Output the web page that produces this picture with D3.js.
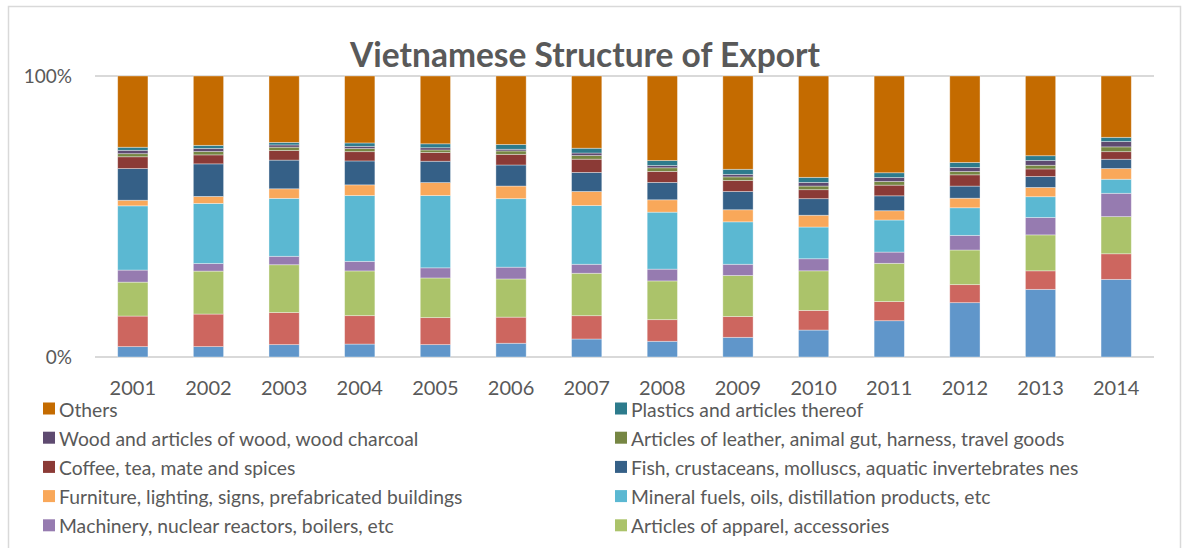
<!DOCTYPE html>
<html>
<head>
<meta charset="utf-8">
<script src="https://cdn.jsdelivr.net/npm/d3@7"></script>
<style>
  body { margin: 0; background: #fff; }
  text { font-family: Lato, "Open Sans", sans-serif; fill: #595959; }
</style>
</head>
<body>
<script>
  // chart data, shares of export per year (%)
  const years = ["2001", "2002", "2003", "2004", "2005", "2006", "2007",
                 "2008", "2009", "2010", "2011", "2012", "2013", "2014"];

  // bottom to top of the stack
  const seriesNames = [
    "Electrical, electronic equipment",
    "Footwear, gaiters and the like",
    "Articles of apparel, accessories",
    "Machinery, nuclear reactors, boilers, etc",
    "Mineral fuels, oils, distillation products, etc",
    "Furniture, lighting, signs, prefabricated buildings",
    "Fish, crustaceans, molluscs, aquatic invertebrates nes",
    "Coffee, tea, mate and spices",
    "Articles of leather, animal gut, harness, travel goods",
    "Wood and articles of wood, wood charcoal",
    "Plastics and articles thereof",
    "Others"
  ];

  const electrical = [3.7, 3.7, 4.4, 4.6, 4.4, 4.9, 6.4, 5.6, 7.0, 9.6, 12.9, 19.3, 24.1, 27.6];
  const footwear   = [10.9, 11.6, 11.4, 10.1, 9.6, 9.3, 8.3, 7.7, 7.4, 7.0, 6.8, 6.4, 6.6, 9.1];
  const apparel    = [12.1, 15.3, 17.0, 15.9, 14.1, 13.6, 15.1, 13.8, 14.6, 14.1, 13.6, 12.3, 12.8, 13.2];
  const machinery  = [4.3, 2.7, 3.0, 3.4, 3.6, 4.2, 3.2, 4.2, 4.0, 4.3, 4.0, 5.2, 6.2, 8.3];
  const mineral    = [22.9, 21.4, 20.6, 23.4, 25.7, 24.4, 20.9, 20.3, 15.1, 11.3, 11.4, 9.8, 7.4, 5.0];
  const furniture  = [2.0, 2.5, 3.4, 3.8, 4.6, 4.5, 5.0, 4.4, 4.3, 4.2, 3.3, 3.4, 3.3, 3.8];
  const fish       = [11.3, 11.6, 10.2, 8.5, 7.6, 7.5, 6.8, 6.2, 6.5, 5.9, 5.3, 4.3, 3.9, 3.3];
  const coffee     = [4.2, 3.2, 3.4, 3.3, 3.1, 3.8, 4.7, 3.9, 3.9, 3.2, 3.8, 4.0, 2.7, 2.7];
  const leather    = [1.1, 1.2, 1.2, 1.1, 0.9, 1.2, 1.3, 1.3, 1.3, 1.3, 1.3, 1.2, 1.3, 1.7];
  const wood       = [1.2, 1.1, 0.8, 0.8, 0.8, 0.6, 0.9, 0.8, 0.9, 1.3, 1.4, 1.4, 1.7, 1.9];
  const plastics   = [1.1, 1.1, 0.9, 1.2, 1.4, 1.7, 1.7, 1.8, 1.8, 1.8, 1.7, 1.8, 1.7, 1.5];
  const others     = [25.4, 24.7, 23.6, 23.8, 24.1, 24.4, 25.7, 30.1, 33.2, 36.1, 34.4, 30.7, 28.4, 21.8];

  const seriesValues = [electrical, footwear, apparel, machinery, mineral, furniture,
                        fish, coffee, leather, wood, plastics, others];

  const colors = ["#6096ca", "#cd665f", "#abc36a", "#967bb0", "#5bb8d2", "#f9a85a",
                  "#356087", "#8b3a36", "#768643", "#5e4a70", "#2d7b8c", "#c46b00"];

  const yTicks = [0, 1];

  const width = 1188, height = 548;
  const svg = d3.select("body").append("svg")
    .attr("width", width)
    .attr("height", height)
    .style("display", "block");

  // outer frame of the chart area
  svg.append("rect")
    .attr("x", 8.5).attr("y", 6.5)
    .attr("width", 1172).attr("height", 560)
    .attr("fill", "#fff")
    .attr("stroke", "#d9d9d9")
    .attr("stroke-width", 1.5);

  // build rows keyed by series index, normalised to 100%
  let table = years.map((y, i) => {
    let row = { year: y };
    let total = d3.sum(seriesValues, s => s[i]);
    seriesValues.forEach((s, k) => { row[k] = s[i] / total; });
    return row;
  });
  let keys = seriesValues.map((s, k) => k);
  let stacked = d3.stack().keys(keys)(table);

  let xScale = d3.scaleBand()
    .domain(years)
    .range([95, 1154])
    .paddingInner(0.6)
    .paddingOuter(0.3);

  let yScale = d3.scaleLinear()
    .domain([0, 1])
    .range([357, 76]);

  // gridlines at 0% and 100%
  svg.append("g")
    .selectAll("line")
    .data(yTicks)
    .enter()
    .append("line")
      .attr("x1", 95)
      .attr("x2", 1154)
      .attr("y1", d => yScale(d))
      .attr("y2", d => yScale(d))
      .attr("stroke", "#d9d9d9")
      .attr("stroke-width", 2);

  let yAxis = d3.axisLeft(yScale)
    .tickValues(yTicks)
    .tickFormat(d3.format(".0%"))
    .tickSize(0)
    .tickPadding(23);
  let gy = svg.append("g")
    .attr("transform", "translate(95, 0)")
    .call(yAxis);
  gy.select(".domain").remove();
  gy.selectAll("text")
    .style("font-size", "19px")
    .style("font-family", "Lato, sans-serif")
    .attr("fill", "#595959");

  // bars
  svg.append("g")
    .selectAll("g")
    .data(stacked)
    .enter()
    .append("g")
      .attr("fill", d => colors[d.key])
    .selectAll("rect")
    .data(d => d)
    .enter()
    .append("rect")
      .attr("x", d => xScale(d.data.year))
      .attr("width", xScale.bandwidth())
      .attr("y", d => yScale(d[1]))
      .attr("height", d => yScale(d[0]) - yScale(d[1]))
      .attr("stroke", "#ffffff")
      .attr("stroke-opacity", 0.45)
      .attr("stroke-width", 0.8);

  let xAxis = d3.axisBottom(xScale)
    .tickSize(0)
    .tickPadding(24);
  let gx = svg.append("g")
    .attr("transform", "translate(0, 357)")
    .call(xAxis);
  gx.select(".domain").remove();
  gx.selectAll("text")
    .style("font-size", "20px")
    .style("font-family", "Lato, sans-serif")
    .attr("fill", "#595959");

  // title
  svg.append("text")
    .attr("x", 585)
    .attr("y", 67)
    .attr("text-anchor", "middle")
    .style("font-size", "33.5px")
    .style("font-weight", "bold")
    .text("Vietnamese Structure of Export");

  // legend, two columns, reversed order; the last row is cut off by the frame
  // in the original, so only the rows that fit are drawn
  let legendItems = keys.slice().reverse().slice(0, 10);
  let legend = svg.append("g")
    .selectAll("g")
    .data(legendItems)
    .enter()
    .append("g")
      .attr("transform", (d, i) => {
        let col = i % 2;
        let row = Math.floor(i / 2);
        let x = col == 0 ? 43 : 615;
        return "translate(" + x + "," + (409.5 + row * 29.2) + ")";
      });

  legend.append("rect")
    .attr("x", 0)
    .attr("y", -7)
    .attr("width", 12)
    .attr("height", 12)
    .attr("fill", d => colors[d]);

  legend.append("text")
    .attr("x", 16)
    .attr("y", 7)
    .style("font-size", "19.3px")
    .text(d => seriesNames[d]);
</script>
</body>
</html>
